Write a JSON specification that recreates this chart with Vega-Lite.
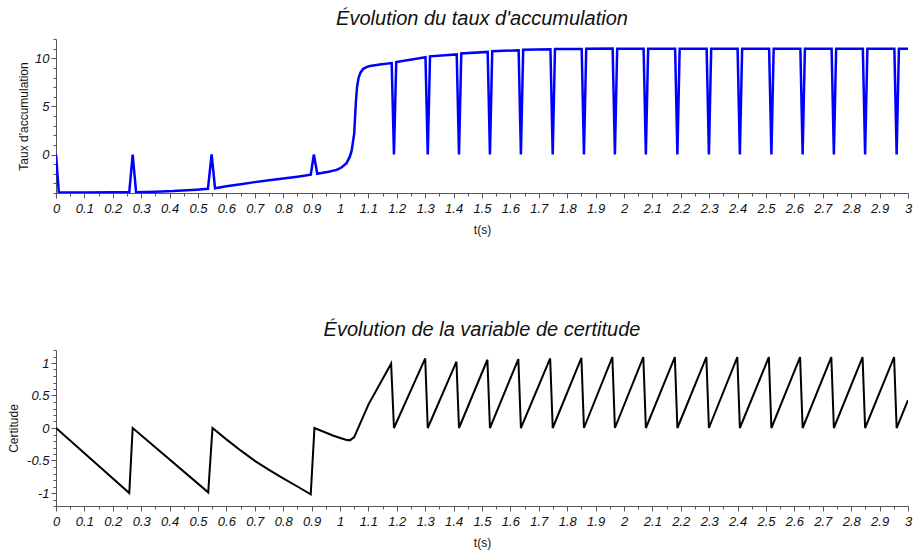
{
  "$schema": "https://vega.github.io/schema/vega-lite/v6.json",
  "background": "white",
  "padding": {"left": 7, "top": 9, "right": 5, "bottom": 2},
  "autosize": {"type": "pad"},
  "config": {
    "view": {"stroke": null},
    "font": "Liberation Sans",
    "axis": {
      "grid": false,
      "domainColor": "#555555",
      "tickColor": "#555555",
      "labelFont": "Liberation Sans",
      "labelFontStyle": "italic",
      "labelFontSize": 13,
      "labelColor": "#111111",
      "titleFont": "Liberation Sans",
      "titleFontSize": 12,
      "titleFontWeight": "normal",
      "titleColor": "#111111",
      "labelOverlap": false,
      "labelBound": false,
      "labelFlush": false
    },
    "title": {"font": "Liberation Sans", "fontSize": 20, "fontStyle": "italic", "fontWeight": "normal", "color": "#111111", "offset": 4}
  },
  "datasets": {
    "taux": [
      {"t": 0, "v": 0}, {"t": 0.01, "v": -3.95}, {"t": 0.1, "v": -3.94}, {"t": 0.2, "v": -3.92}, {"t": 0.258, "v": -3.9},
      {"t": 0.27, "v": 0}, {"t": 0.282, "v": -3.92}, {"t": 0.35, "v": -3.87}, {"t": 0.413, "v": -3.8}, {"t": 0.495, "v": -3.65},
      {"t": 0.535, "v": -3.57}, {"t": 0.548, "v": 0}, {"t": 0.56, "v": -3.5}, {"t": 0.6, "v": -3.3}, {"t": 0.65, "v": -3.08},
      {"t": 0.7, "v": -2.87}, {"t": 0.75, "v": -2.68}, {"t": 0.8, "v": -2.5}, {"t": 0.85, "v": -2.3}, {"t": 0.897, "v": -2.1}, {"t": 0.908, "v": 0},
      {"t": 0.92, "v": -2.0}, {"t": 0.96, "v": -1.8}, {"t": 0.988, "v": -1.6}, {"t": 1.005, "v": -1.35}, {"t": 1.023, "v": -0.9},
      {"t": 1.035, "v": -0.2}, {"t": 1.041, "v": 0.4}, {"t": 1.05, "v": 2.15}, {"t": 1.056, "v": 5.5}, {"t": 1.06, "v": 7.0},
      {"t": 1.065, "v": 7.9}, {"t": 1.072, "v": 8.5}, {"t": 1.082, "v": 8.9}, {"t": 1.095, "v": 9.1}, {"t": 1.106, "v": 9.2},
      {"t": 1.14, "v": 9.35}, {"t": 1.182, "v": 9.5}, {"t": 1.19, "v": 0}, {"t": 1.198, "v": 9.6},
      {"t": 1.301, "v": 10.1}, {"t": 1.309, "v": 0}, {"t": 1.317, "v": 10.2},
      {"t": 1.411, "v": 10.4}, {"t": 1.419, "v": 0}, {"t": 1.427, "v": 10.5},
      {"t": 1.52, "v": 10.66}, {"t": 1.528, "v": 0}, {"t": 1.536, "v": 10.72},
      {"t": 1.629, "v": 10.83}, {"t": 1.637, "v": 0}, {"t": 1.645, "v": 10.88},
      {"t": 1.741, "v": 10.94}, {"t": 1.749, "v": 0}, {"t": 1.757, "v": 10.95},
      {"t": 1.851, "v": 10.97}, {"t": 1.859, "v": 0}, {"t": 1.867, "v": 10.98},
      {"t": 1.96, "v": 11.0}, {"t": 1.968, "v": 0}, {"t": 1.976, "v": 11.0},
      {"t": 2.069, "v": 11.0}, {"t": 2.077, "v": 0}, {"t": 2.085, "v": 11.0},
      {"t": 2.18, "v": 11.0}, {"t": 2.188, "v": 0}, {"t": 2.196, "v": 11.0},
      {"t": 2.291, "v": 11.0}, {"t": 2.299, "v": 0}, {"t": 2.307, "v": 11.0},
      {"t": 2.4, "v": 11.0}, {"t": 2.408, "v": 0}, {"t": 2.416, "v": 11.0},
      {"t": 2.511, "v": 11.0}, {"t": 2.519, "v": 0}, {"t": 2.527, "v": 11.0},
      {"t": 2.621, "v": 11.0}, {"t": 2.629, "v": 0}, {"t": 2.637, "v": 11.0},
      {"t": 2.731, "v": 11.0}, {"t": 2.739, "v": 0}, {"t": 2.747, "v": 11.0},
      {"t": 2.841, "v": 11.0}, {"t": 2.849, "v": 0}, {"t": 2.857, "v": 11.0},
      {"t": 2.952, "v": 11.0}, {"t": 2.96, "v": 0}, {"t": 2.968, "v": 11.0},
      {"t": 3.0, "v": 11.0}
    ],
    "certitude": [
      {"t": 0, "v": 0}, {"t": 0.258, "v": -1.0}, {"t": 0.27, "v": 0}, {"t": 0.536, "v": -0.99}, {"t": 0.551, "v": 0},
      {"t": 0.6, "v": -0.175}, {"t": 0.65, "v": -0.345}, {"t": 0.7, "v": -0.505}, {"t": 0.75, "v": -0.645}, {"t": 0.8, "v": -0.775},
      {"t": 0.85, "v": -0.9}, {"t": 0.897, "v": -1.02}, {"t": 0.91, "v": 0}, {"t": 0.977, "v": -0.12}, {"t": 1.02, "v": -0.18}, {"t": 1.035, "v": -0.19},
      {"t": 1.05, "v": -0.14}, {"t": 1.1, "v": 0.36}, {"t": 1.18, "v": 0.99}, {"t": 1.19, "v": 0},
      {"t": 1.3, "v": 1.07}, {"t": 1.309, "v": 0},
      {"t": 1.41, "v": 1.02}, {"t": 1.419, "v": 0},
      {"t": 1.519, "v": 1.05}, {"t": 1.528, "v": 0},
      {"t": 1.628, "v": 1.06}, {"t": 1.637, "v": 0},
      {"t": 1.74, "v": 1.07}, {"t": 1.749, "v": 0},
      {"t": 1.85, "v": 1.08}, {"t": 1.859, "v": 0},
      {"t": 1.959, "v": 1.09}, {"t": 1.968, "v": 0},
      {"t": 2.068, "v": 1.09}, {"t": 2.077, "v": 0},
      {"t": 2.179, "v": 1.09}, {"t": 2.188, "v": 0},
      {"t": 2.29, "v": 1.09}, {"t": 2.299, "v": 0},
      {"t": 2.399, "v": 1.09}, {"t": 2.408, "v": 0},
      {"t": 2.51, "v": 1.09}, {"t": 2.519, "v": 0},
      {"t": 2.62, "v": 1.09}, {"t": 2.629, "v": 0},
      {"t": 2.73, "v": 1.09}, {"t": 2.739, "v": 0},
      {"t": 2.84, "v": 1.09}, {"t": 2.849, "v": 0},
      {"t": 2.951, "v": 1.09}, {"t": 2.96, "v": 0},
      {"t": 3.0, "v": 0.43}
    ]
  },
  "spacing": 85,
  "vconcat": [
    {
      "title": "Évolution du taux d'accumulation",
      "width": 852,
      "height": 154,
      "data": {"name": "taux"},
      "mark": {"type": "line", "color": "#0000ff", "strokeWidth": 2.5, "clip": true},
      "encoding": {
        "x": {
          "field": "t", "type": "quantitative", "title": "t(s)",
          "scale": {"domain": [0, 3], "nice": false, "zero": false},
          "axis": {
            "values": [0,0.05,0.1,0.15,0.2,0.25,0.3,0.35,0.4,0.45,0.5,0.55,0.6,0.65,0.7,0.75,0.8,0.85,0.9,0.95,1,1.05,1.1,1.15,1.2,1.25,1.3,1.35,1.4,1.45,1.5,1.55,1.6,1.65,1.7,1.75,1.8,1.85,1.9,1.95,2,2.05,2.1,2.15,2.2,2.25,2.3,2.35,2.4,2.45,2.5,2.55,2.6,2.65,2.7,2.75,2.8,2.85,2.9,2.95,3],
            "labelExpr": "round(datum.value*100) % 10 == 0 ? toString(round(datum.value*10)/10) : ''",
            "tickSize": {"condition": {"test": "round(datum.value*100) % 10 == 0", "value": 5}, "value": 3},
            "labelPadding": 4,
            "titlePadding": 9
          }
        },
        "y": {
          "field": "v", "type": "quantitative", "title": "Taux d'accumulation",
          "scale": {"domain": [-4, 12], "nice": false, "zero": false},
          "axis": {
            "values": [-4,-3,-2,-1,0,1,2,3,4,5,6,7,8,9,10,11,12],
            "labelExpr": "datum.value % 5 == 0 ? toString(datum.value) : ''",
            "tickSize": {"condition": {"test": "datum.value % 5 == 0", "value": 5}, "value": 3},
            "labelPadding": 2,
            "titlePadding": 4
          }
        }
      }
    },
    {
      "title": "Évolution de la variable de certitude",
      "width": 852,
      "height": 156,
      "data": {"name": "certitude"},
      "mark": {"type": "line", "color": "#000000", "strokeWidth": 2, "clip": true},
      "encoding": {
        "x": {
          "field": "t", "type": "quantitative", "title": "t(s)",
          "scale": {"domain": [0, 3], "nice": false, "zero": false},
          "axis": {
            "values": [0,0.05,0.1,0.15,0.2,0.25,0.3,0.35,0.4,0.45,0.5,0.55,0.6,0.65,0.7,0.75,0.8,0.85,0.9,0.95,1,1.05,1.1,1.15,1.2,1.25,1.3,1.35,1.4,1.45,1.5,1.55,1.6,1.65,1.7,1.75,1.8,1.85,1.9,1.95,2,2.05,2.1,2.15,2.2,2.25,2.3,2.35,2.4,2.45,2.5,2.55,2.6,2.65,2.7,2.75,2.8,2.85,2.9,2.95,3],
            "labelExpr": "round(datum.value*100) % 10 == 0 ? toString(round(datum.value*10)/10) : ''",
            "tickSize": {"condition": {"test": "round(datum.value*100) % 10 == 0", "value": 5}, "value": 3},
            "labelPadding": 4,
            "titlePadding": 9
          }
        },
        "y": {
          "field": "v", "type": "quantitative", "title": "Certitude",
          "scale": {"domain": [-1.2, 1.2], "nice": false, "zero": false},
          "axis": {
            "values": [-1.2,-1.1,-1,-0.9,-0.8,-0.7,-0.6,-0.5,-0.4,-0.3,-0.2,-0.1,0,0.1,0.2,0.3,0.4,0.5,0.6,0.7,0.8,0.9,1,1.1,1.2],
            "labelExpr": "round(datum.value*10) % 5 == 0 ? toString(round(datum.value*10)/10) : ''",
            "tickSize": {"condition": {"test": "round(datum.value*10) % 5 == 0", "value": 5}, "value": 3},
            "labelPadding": 2,
            "titlePadding": 6
          }
        }
      }
    }
  ]
}
